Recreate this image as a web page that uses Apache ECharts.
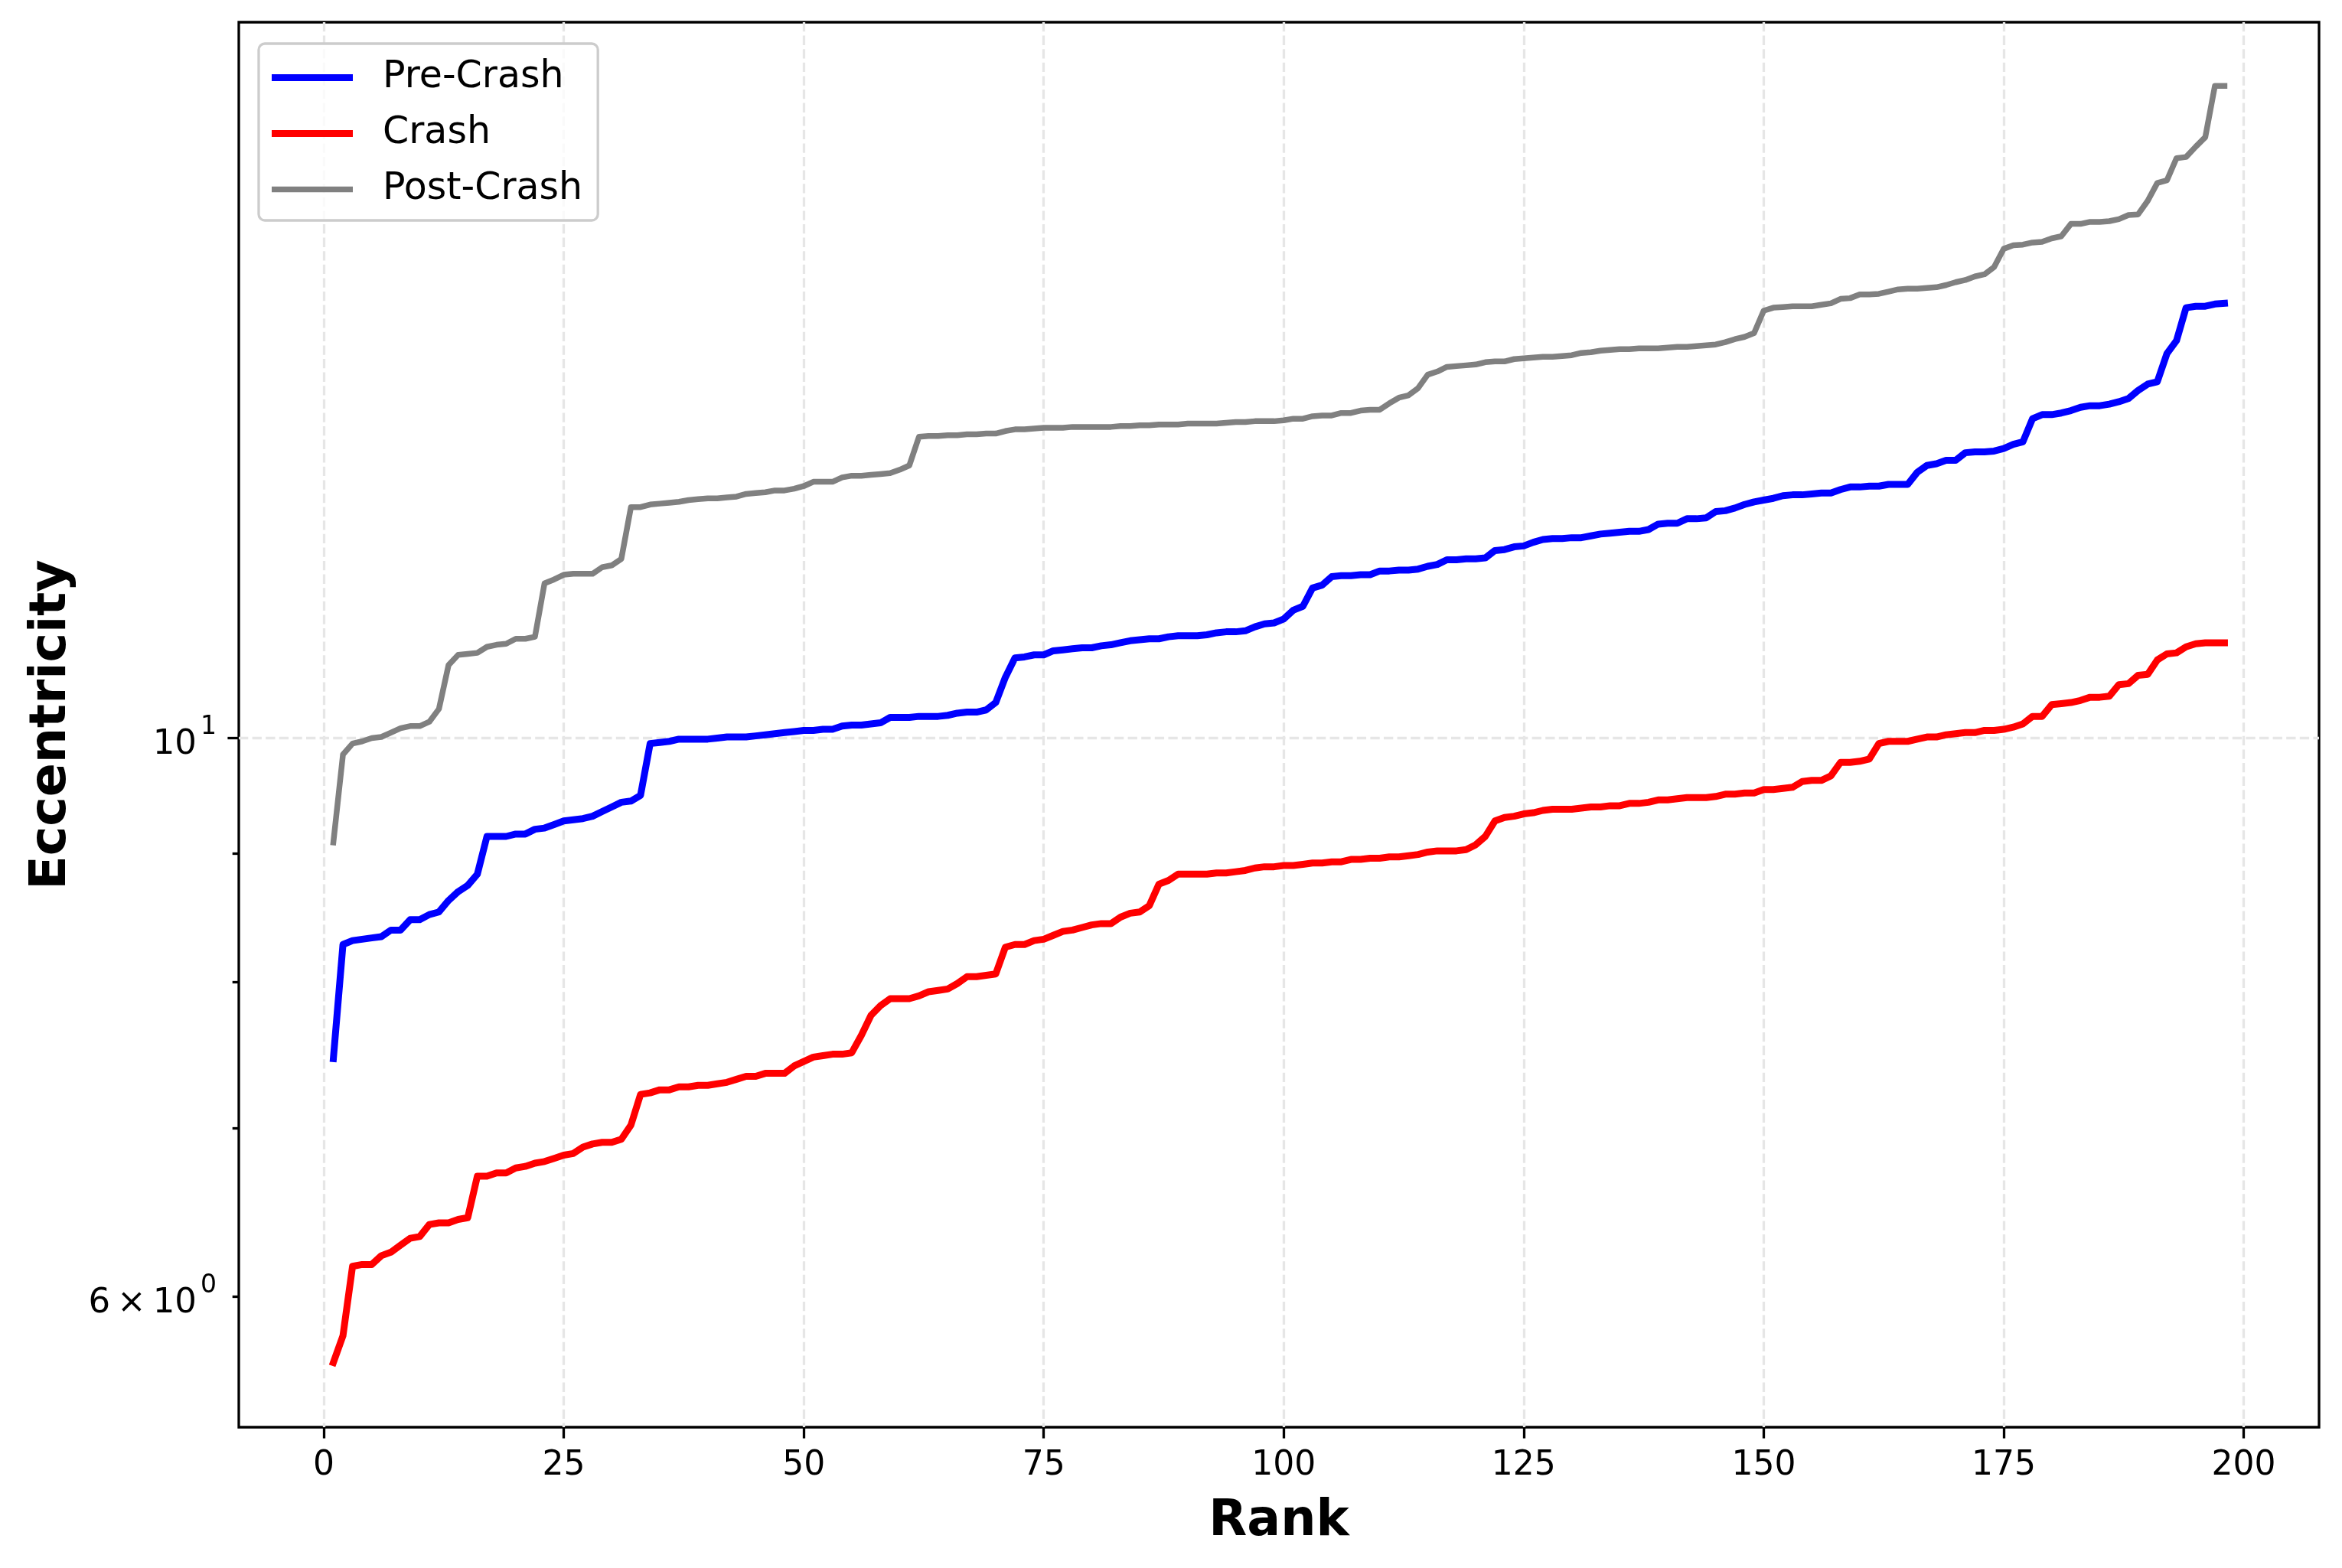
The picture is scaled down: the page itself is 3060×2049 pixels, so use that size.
<!DOCTYPE html>
<html><head><meta charset="utf-8">
<script src="https://cdn.jsdelivr.net/npm/echarts@6/dist/echarts.min.js"></script>
<style>html,body{margin:0;padding:0;background:#fff}#c{width:3060px;height:2049px}</style>
</head><body><div id="c"></div>
<script>
// ---- data (rank 1..198) ----
const preCrash = [
7.46,8.28,8.31,8.32,8.33,8.34,8.39,8.39,8.47,8.47,
8.51,8.53,8.62,8.69,8.74,8.83,9.14,9.14,9.14,9.16,
9.16,9.20,9.21,9.24,9.27,9.28,9.29,9.31,9.35,9.39,
9.43,9.44,9.49,9.95,9.96,9.97,9.99,9.99,9.99,9.99,
10.00,10.01,10.01,10.01,10.02,10.03,10.04,10.05,10.06,10.07,
10.07,10.08,10.08,10.11,10.12,10.12,10.13,10.14,10.19,10.19,
10.19,10.20,10.20,10.20,10.21,10.23,10.24,10.24,10.26,10.33,
10.57,10.76,10.77,10.79,10.79,10.83,10.84,10.85,10.86,10.86,
10.88,10.89,10.91,10.93,10.94,10.95,10.95,10.97,10.98,10.98,
10.98,10.99,11.01,11.02,11.02,11.03,11.07,11.10,11.11,11.15,
11.24,11.28,11.47,11.50,11.59,11.60,11.60,11.61,11.61,11.65,
11.65,11.66,11.66,11.67,11.70,11.72,11.77,11.77,11.78,11.78,
11.79,11.87,11.88,11.91,11.92,11.96,11.99,12.00,12.00,12.01,
12.01,12.03,12.05,12.06,12.07,12.08,12.08,12.10,12.16,12.17,
12.17,12.22,12.22,12.23,12.30,12.31,12.34,12.38,12.41,12.43,
12.45,12.48,12.49,12.49,12.50,12.51,12.51,12.55,12.58,12.58,
12.59,12.59,12.61,12.61,12.61,12.75,12.83,12.85,12.89,12.89,
12.98,12.99,12.99,13.00,13.03,13.08,13.11,13.39,13.44,13.44,
13.46,13.49,13.53,13.55,13.55,13.57,13.60,13.64,13.74,13.82,
13.85,14.21,14.38,14.82,14.84,14.84,14.87,14.88];
const crash = [
5.65,5.79,6.17,6.18,6.18,6.23,6.25,6.29,6.33,6.34,
6.41,6.42,6.42,6.44,6.45,6.70,6.70,6.72,6.72,6.75,
6.76,6.78,6.79,6.81,6.83,6.84,6.88,6.90,6.91,6.91,
6.93,7.02,7.22,7.23,7.25,7.25,7.27,7.27,7.28,7.28,
7.29,7.30,7.32,7.34,7.34,7.36,7.36,7.36,7.41,7.44,
7.47,7.48,7.49,7.49,7.50,7.62,7.76,7.83,7.88,7.88,
7.88,7.90,7.93,7.94,7.95,7.99,8.04,8.04,8.05,8.06,
8.26,8.28,8.28,8.31,8.32,8.35,8.38,8.39,8.41,8.43,
8.44,8.44,8.49,8.52,8.53,8.58,8.75,8.78,8.83,8.83,
8.83,8.83,8.84,8.84,8.85,8.86,8.88,8.89,8.89,8.90,
8.90,8.91,8.92,8.92,8.93,8.93,8.95,8.95,8.96,8.96,
8.97,8.97,8.98,8.99,9.01,9.02,9.02,9.02,9.03,9.07,
9.14,9.27,9.30,9.31,9.33,9.34,9.36,9.37,9.37,9.37,
9.38,9.39,9.39,9.40,9.40,9.42,9.42,9.43,9.45,9.45,
9.46,9.47,9.47,9.47,9.48,9.50,9.50,9.51,9.51,9.54,
9.54,9.55,9.56,9.61,9.62,9.62,9.66,9.78,9.78,9.79,
9.81,9.95,9.97,9.97,9.97,9.99,10.01,10.01,10.03,10.04,
10.05,10.05,10.07,10.07,10.08,10.10,10.13,10.20,10.20,10.31,
10.32,10.33,10.35,10.38,10.38,10.39,10.50,10.51,10.59,10.60,
10.74,10.80,10.81,10.87,10.90,10.91,10.91,10.91];
const postCrash = [
9.09,9.85,9.95,9.97,10.00,10.01,10.05,10.09,10.11,10.11,
10.15,10.27,10.69,10.79,10.80,10.81,10.87,10.89,10.90,10.95,
10.95,10.97,11.52,11.56,11.61,11.62,11.62,11.62,11.69,11.71,
11.78,12.35,12.35,12.38,12.39,12.40,12.41,12.43,12.44,12.45,
12.45,12.46,12.47,12.50,12.51,12.52,12.54,12.54,12.56,12.59,
12.64,12.64,12.64,12.69,12.71,12.71,12.72,12.73,12.74,12.78,
12.83,13.17,13.18,13.18,13.19,13.19,13.20,13.20,13.21,13.21,
13.24,13.26,13.26,13.27,13.28,13.28,13.28,13.29,13.29,13.29,
13.29,13.29,13.30,13.30,13.31,13.31,13.32,13.32,13.32,13.33,
13.33,13.33,13.33,13.34,13.35,13.35,13.36,13.36,13.36,13.37,
13.39,13.39,13.42,13.43,13.43,13.46,13.46,13.49,13.50,13.50,
13.58,13.65,13.68,13.77,13.94,13.98,14.04,14.05,14.06,14.07,
14.10,14.11,14.11,14.14,14.15,14.16,14.17,14.17,14.18,14.19,
14.22,14.23,14.25,14.26,14.27,14.27,14.28,14.28,14.28,14.29,
14.30,14.30,14.31,14.32,14.33,14.36,14.40,14.43,14.48,14.78,
14.82,14.83,14.84,14.84,14.84,14.86,14.88,14.94,14.95,15.00,
15.00,15.01,15.04,15.07,15.08,15.08,15.09,15.10,15.13,15.17,
15.20,15.25,15.28,15.38,15.64,15.69,15.70,15.73,15.74,15.79,
15.82,16.00,16.00,16.03,16.03,16.04,16.07,16.13,16.14,16.34,
16.61,16.65,16.99,17.01,17.17,17.32,18.15,18.15];

const seriesNames = ['Pre-Crash', 'Crash', 'Post-Crash'];
const seriesColors = ['#0000ff', '#ff0000', '#808080'];
const seriesWidths = [9, 9, 7.5];
const xTicks = [0, 25, 50, 75, 100, 125, 150, 175, 200];
const yMajorTicks = [10];
const yMinorTicks = [6, 7, 8, 9];
const yLabelTicks = [6, 10];
const xLabel = 'Rank';
const yLabel = 'Eccentricity';

// ---- chart ----
const FONT = 'DejaVu Sans';
const toPairs = arr => arr.map((v, i) => [i + 1, v]);
const chart = echarts.init(document.getElementById('c'), null, {renderer: 'canvas', width: 3060, height: 2049});

function logLabel(v) {
  const e = Math.floor(Math.log10(v) + 1e-9);
  const m = Math.round(v / Math.pow(10, e));
  return m === 1 ? '{m|10}{s|' + e + '}' : '{m|' + m + '\u2009×\u200910}{s|' + e + '}';
}

const tickStyle = {color: '#000', width: 3.3};
const gridStyle = {color: '#e6e6e6', width: 3.3, type: [12.3, 5.3]};
const hiddenLine = {show: false, onZero: false};
const yBase = {
  type: 'log', logBase: 10, min: 5.326, max: 19.24, position: 'left', offset: 0,
  axisLine: hiddenLine, minorTick: {show: false}, minorSplitLine: {show: false}
};

chart.setOption({
  animation: false,
  backgroundColor: '#ffffff',
  grid: {left: 312, top: 29, width: 2718, height: 1836, show: true,
         borderColor: '#000', borderWidth: 3.3, backgroundColor: 'rgba(0,0,0,0)'},
  legend: {
    z: 20,
    data: seriesNames.map((n, k) => ({name: n, icon: 'path://M0,0H106V' + seriesWidths[k] + 'H0Z'})),
    orient: 'vertical', left: 338, top: 57,
    itemWidth: 106, itemHeight: 9, itemGap: 24, symbolKeepAspect: true,
    itemStyle: {borderWidth: 0},
    padding: [20, 20, 16, 17],
    backgroundColor: 'rgba(255,255,255,0.8)', borderColor: '#cccccc', borderWidth: 3.3, borderRadius: 8,
    textStyle: {fontSize: 49, fontFamily: FONT, color: '#000', padding: [0, 0, 0, 34]}
  },
  xAxis: {
    type: 'value', min: -8.85, max: 207.85, position: 'bottom',
    axisLine: hiddenLine,
    splitLine: {show: true, customValues: xTicks, lineStyle: gridStyle},
    axisTick: {show: true, customValues: xTicks, length: 14.6, lineStyle: tickStyle},
    axisLabel: {customValues: xTicks, margin: 29, fontSize: 44, fontFamily: FONT, color: '#000'},
    name: xLabel, nameLocation: 'middle', nameGap: 92,
    nameTextStyle: {fontSize: 65, fontWeight: 'bold', fontFamily: FONT, color: '#000'}
  },
  yAxis: [
    Object.assign({}, yBase, {
      splitLine: {show: true, customValues: yMajorTicks, lineStyle: gridStyle},
      axisTick: {show: true, customValues: yMajorTicks, length: 14.6, lineStyle: tickStyle},
      axisLabel: {customValues: yLabelTicks, margin: 29, formatter: logLabel,
        rich: {
          m: {fontSize: 45, fontFamily: FONT, color: '#000', lineHeight: 62, verticalAlign: 'bottom'},
          s: {fontSize: 33, fontFamily: FONT, color: '#000', lineHeight: 38, verticalAlign: 'top', padding: [0, 0, 0, 5]}
        }},
      name: yLabel, nameLocation: 'middle', nameGap: 211, nameRotate: 90,
      nameTextStyle: {fontSize: 65, fontWeight: 'bold', fontFamily: FONT, color: '#000'}
    }),
    Object.assign({}, yBase, {
      splitLine: {show: false},
      axisTick: {show: true, customValues: yMinorTicks, length: 8.3, lineStyle: tickStyle},
      axisLabel: {show: false}
    })
  ],
  series: [preCrash, crash, postCrash].map((arr, k) => ({
    name: seriesNames[k], type: 'line', data: toPairs(arr),
    symbol: 'none', showSymbol: false, z: 3 + k, color: seriesColors[k],
    lineStyle: {width: seriesWidths[k], color: seriesColors[k], cap: 'square', join: 'round'},
    emphasis: {disabled: true}
  }))
});
</script></body></html>
